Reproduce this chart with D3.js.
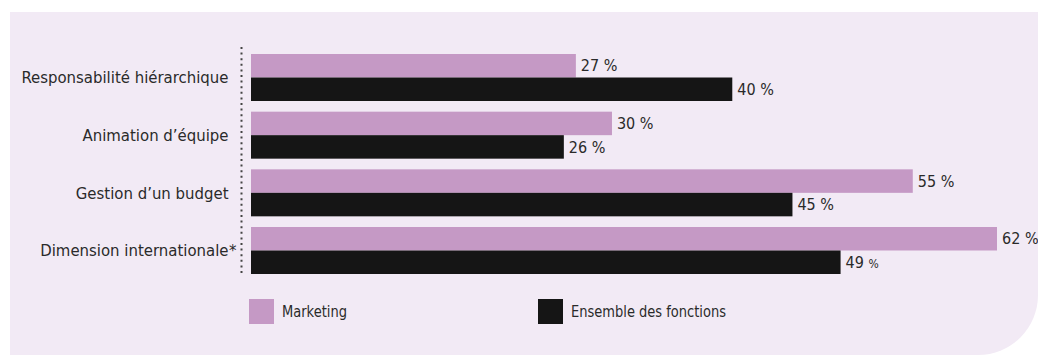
<!DOCTYPE html>
<html>
<head>
<meta charset="utf-8">
<script src="https://cdn.jsdelivr.net/npm/d3@7"></script>
<style>
  html, body { margin: 0; padding: 0; background: #fff; }
  svg { display: block; }
  text { font-family: "DejaVu Sans Condensed", "DejaVu Sans", sans-serif; font-stretch: condensed; fill: #2a2a2a; }
</style>
</head>
<body>
<div id="chart"></div>
<script>
// categories and values (percent)
const categories = [
  'Responsabilité hiérarchique',
  'Animation d’équipe',
  'Gestion d’un budget',
  'Dimension internationale*'
];
const seriesNames = ['Marketing', 'Ensemble des fonctions'];
const marketing = [27, 30, 55, 62];
const ensemble = [40, 26, 45, 49];
const colors = ['#c599c5', '#151515'];

(function () {
  const width = 1038, height = 355;
  const svg = d3.select('#chart').append('svg').attr('width', width).attr('height', height);

  // background panel with rounded bottom-right corner
  const px0 = 10, py0 = 12, px1 = 1038, py1 = 355, r = 60;
  svg.append('path')
    .attr('d', `M${px0},${py0}H${px1}V${py1 - r}A${r},${r} 0 0 1 ${px1 - r},${py1}H${px0}Z`)
    .attr('fill', '#f2eaf5');

  const x = d3.scaleLinear().domain([0, 62]).range([251, 997]);
  const y = d3.scaleBand().domain(categories).range([54, 274]).paddingInner(0.185).paddingOuter(0);
  const ySub = d3.scaleBand().domain(seriesNames).range([0, y.bandwidth()]);

  const rows = categories.map((c, i) => ({ cat: c, vals: [marketing[i], ensemble[i]] }));

  // dotted axis
  svg.append('line')
    .attr('x1', 241.5).attr('x2', 241.5).attr('y1', 47).attr('y2', 275)
    .attr('stroke', '#444').attr('stroke-width', 2).attr('stroke-dasharray', '2,3.6');

  // category labels (a trailing asterisk hangs past the alignment edge)
  const cat = svg.selectAll('g.cat').data(categories).join('g')
    .attr('class', 'cat')
    .attr('transform', d => `translate(228.5,${y(d) + y.bandwidth() / 2})`);
  cat.append('text')
    .attr('dy', '0.35em')
    .attr('text-anchor', 'end')
    .style('font-size', '16.6px')
    .text(d => d.replace(/\*$/, ''));
  cat.filter(d => d.endsWith('*')).append('text')
    .attr('x', 0.5)
    .attr('dy', '0.35em')
    .style('font-size', '16.6px')
    .text('*');

  const g = svg.selectAll('g.grp').data(rows).join('g')
    .attr('class', 'grp')
    .attr('transform', d => `translate(0,${y(d.cat)})`);

  g.selectAll('rect').data(d => d.vals.map((v, j) => ({ v, s: seriesNames[j], j }))).join('rect')
    .attr('x', x(0))
    .attr('y', d => ySub(d.s))
    .attr('width', d => x(d.v) - x(0))
    .attr('height', ySub.bandwidth())
    .attr('fill', d => colors[d.j]);

  const lbl = g.selectAll('text.val').data(d => d.vals.map((v, j) => ({ v, s: seriesNames[j], j, cat: d.cat }))).join('text')
    .attr('class', 'val')
    .attr('x', d => x(d.v) + 5)
    .attr('y', d => ySub(d.s) + ySub.bandwidth() / 2)
    .attr('dy', '0.35em')
    .style('font-size', '16px');
  lbl.append('tspan').text(d => d.v + ' ');
  // the 49 % label has a smaller percent sign in the original
  lbl.append('tspan')
    .style('font-size', d => (d.j === 1 && d.cat === categories[3]) ? '12px' : '16px')
    .text('%');

  // legend (the original face is narrower here)
  const legendX = [249, 538];
  const legendTextW = [65, 155];
  const leg = svg.selectAll('g.leg').data(seriesNames).join('g')
    .attr('class', 'leg')
    .attr('transform', (d, i) => `translate(${legendX[i]},299)`);
  leg.append('rect').attr('width', 25).attr('height', 25).attr('fill', (d, i) => colors[i]);
  leg.append('text').attr('x', 33).attr('y', 12.5).attr('dy', '0.35em')
    .style('font-size', '16.6px')
    .attr('textLength', (d, i) => legendTextW[i])
    .attr('lengthAdjust', 'spacingAndGlyphs')
    .text(d => d);
})();
</script>
</body>
</html>
